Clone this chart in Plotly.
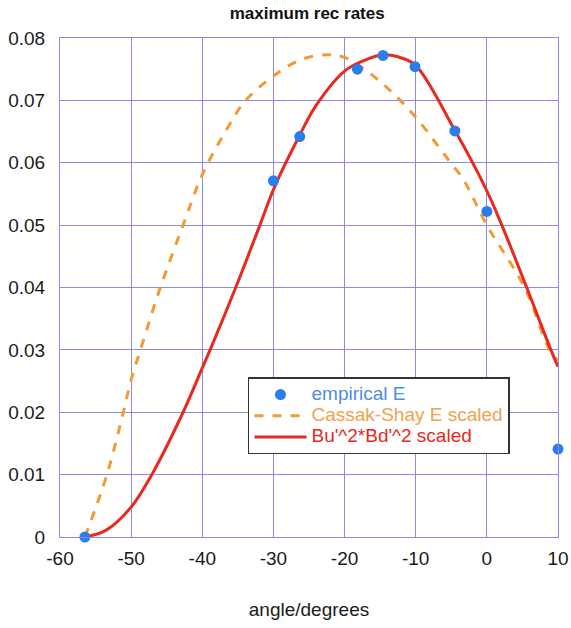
import plotly.graph_objects as go

# empirical data points
emp_x = [-56.5, -30.0, -26.3, -18.2, -14.6, -10.1, -4.5, 0.0, 10.0]
emp_y = [0.0, 0.0571, 0.0642, 0.0750, 0.0772, 0.0754, 0.0651, 0.0522, 0.0141]

# Cassak-Shay E scaled (dashed orange)
cs_x = [-56.5, -53.4, -51.1, -50.0, -48.7, -45.9, -42.7, -40.0, -36.5, -33.9, -30.0,
        -26.2, -22.5, -20.0, -17.0, -13.8, -10.0, -5.3, -3.3, 0.0, 5.3, 8.8, 10.0]
cs_y = [0.0, 0.010, 0.020, 0.0252, 0.030, 0.040, 0.050, 0.0581, 0.0655, 0.070, 0.0739,
        0.0765, 0.0773, 0.0769, 0.0748, 0.0718, 0.0673, 0.0603, 0.0573, 0.050, 0.040, 0.030, 0.0283]

# Bu'^2*Bd'^2 scaled (solid red)
bb_x = [-56.5, -53.5, -50.0, -47.0, -42.7, -40.0, -38.9, -35.3, -31.9, -30.0, -26.5,
        -24.0, -20.0, -17.0, -14.6, -12.0, -10.0, -4.5, 0.0, 2.1, 5.6, 9.0, 10.0]
bb_y = [0.0, 0.0011, 0.0048, 0.0102, 0.020, 0.0271, 0.030, 0.040, 0.050, 0.0557, 0.064,
        0.0692, 0.0747, 0.0765, 0.0773, 0.0768, 0.0756, 0.0652, 0.0555, 0.050, 0.040, 0.030, 0.0273]

x_ticks = [-60, -50, -40, -30, -20, -10, 0, 10]
x_ticktext = ["-60", "-50", "-40", "-30", "-20", "-10", "0", "10"]
y_ticks = [0, 0.01, 0.02, 0.03, 0.04, 0.05, 0.06, 0.07, 0.08]
y_ticktext = ["0", "0.01", "0.02", "0.03", "0.04", "0.05", "0.06", "0.07", "0.08"]

BLUE = "#2b7de9"
ORANGE = "#f39a33"
RED = "#e82a1e"
GRID = "#8a8aec"
FONT = "Liberation Sans, Arial, sans-serif"

fig = go.Figure()
fig.add_trace(go.Scatter(
    x=cs_x, y=cs_y, mode="lines", line=dict(color=ORANGE, width=3, dash="dash", shape="spline"),
    name="<span style='color:#f0a24e;font-size:19px'>Cassak-Shay E scaled</span>",
    legendrank=2, cliponaxis=False))
fig.add_trace(go.Scatter(
    x=bb_x, y=bb_y, mode="lines", line=dict(color=RED, width=3, shape="spline"),
    name="<span style='color:#e8281e;font-size:19px'>Bu'^2*Bd'^2 scaled</span>",
    legendrank=3, cliponaxis=False))
fig.add_trace(go.Scatter(
    x=emp_x, y=emp_y, mode="markers", marker=dict(color=BLUE, size=11),
    name="<span style='color:#4f8be6;font-size:19px'>empirical E</span>",
    legendrank=1, cliponaxis=False))

fig.update_layout(
    width=571, height=628,
    margin=dict(l=60, r=13, t=38, b=91),
    paper_bgcolor="white", plot_bgcolor="white",
    font=dict(family=FONT, size=19, color="#1a1a1a"),
    title=dict(text="<b>maximum rec rates</b>", x=0.538, xanchor="center", y=0.979, yanchor="middle",
               font=dict(family=FONT, size=17, color="#111111")),
    xaxis=dict(range=[-60, 10], tickvals=x_ticks, ticktext=x_ticktext, showgrid=True,
               gridcolor=GRID, gridwidth=1, automargin=False,
               zeroline=False, showline=True, linecolor=GRID, linewidth=1, mirror=True,
               ticks="", tickfont=dict(size=19), ticklabelstandoff=4,
               title=dict(text="angle/degrees", font=dict(size=19), standoff=34)),
    yaxis=dict(range=[0, 0.08], tickvals=y_ticks, ticktext=y_ticktext, showgrid=True,
               gridcolor=GRID, gridwidth=1, zeroline=False, showline=True, linecolor=GRID,
               linewidth=1, mirror=True, ticks="", tickfont=dict(size=19), automargin=False,
               ticklabelstandoff=10),
    legend=dict(x=0.3775, y=0.2425, xanchor="left", yanchor="middle", bgcolor="white",
                bordercolor="#333333", borderwidth=1.5, font=dict(size=14), itemwidth=52,
                tracegroupgap=0),
    showlegend=True,
)

fig.write_html("out.html", config={"displayModeBar": False},
               post_script="document.body.style.margin='0';document.body.style.overflow='hidden';")
